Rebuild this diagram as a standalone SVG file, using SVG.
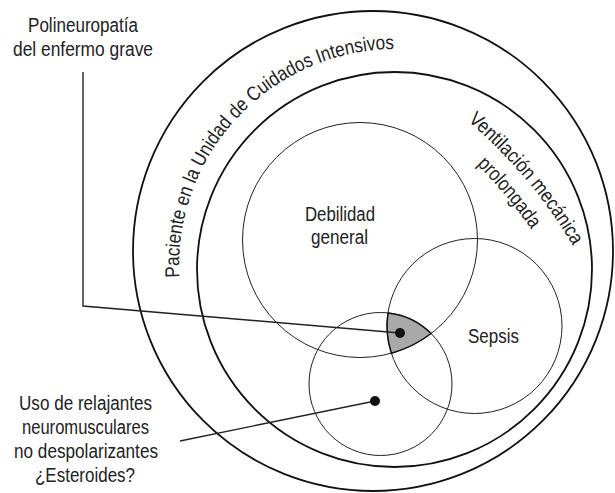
<svg xmlns="http://www.w3.org/2000/svg" xmlns:xlink="http://www.w3.org/1999/xlink" width="615" height="493" viewBox="0 0 615 493">
<style>
.bg{fill:#ffffff}
.ring{fill:none;stroke:#111;stroke-width:1.8}
.set{fill:none;stroke:#222;stroke-width:1}
.shade{fill:#a9a9a9;stroke:#111;stroke-width:1.5;stroke-linejoin:round}
.con{fill:none;stroke:#222;stroke-width:1.4}
.dot{fill:#111}
.t{font-family:"Liberation Sans",Arial,sans-serif;font-size:20px;fill:#222}
.c{text-anchor:middle}
</style>
<defs>
<path id="arcUCI" d="M179.8,284.9 A217,217 0 0 1 414.9,49.8"/>
<path id="arcV1" d="M393,68 A500,500 0 0 1 612.8,330"/>
<path id="arcV2" d="M380,90.5 A474,474 0 0 1 588.4,338.9"/>
</defs>
<rect class="bg" x="0" y="0" width="615" height="493"/>
<g id="node-uci">
<circle class="ring" cx="373" cy="251" r="240"/>
<text class="t"><textPath xlink:href="#arcUCI" href="#arcUCI" startOffset="7.6" textLength="350" lengthAdjust="spacingAndGlyphs">Paciente en la Unidad de Cuidados Intensivos</textPath></text>
</g>
<g id="node-ventilacion">
<circle class="ring" cx="394.5" cy="269.5" r="197.5"/>
<text class="t"><textPath xlink:href="#arcV1" href="#arcV1" startOffset="91.7" textLength="164" lengthAdjust="spacingAndGlyphs">Ventilación mecánica</textPath></text>
<text class="t"><textPath xlink:href="#arcV2" href="#arcV2" startOffset="122.1" textLength="85" lengthAdjust="spacingAndGlyphs">prolongada</textPath></text>
</g>
<g id="node-debilidad">
<circle class="set" cx="360" cy="240" r="117.5"/>
<text class="t c" x="340" y="221" textLength="70" lengthAdjust="spacingAndGlyphs">Debilidad</text>
<text class="t c" x="339.5" y="244" textLength="57" lengthAdjust="spacingAndGlyphs">general</text>
</g>
<g id="node-sepsis">
<circle class="set" cx="474.5" cy="326" r="87.5"/>
<text class="t c" x="493.5" y="343" textLength="51" lengthAdjust="spacingAndGlyphs">Sepsis</text>
</g>
<g id="node-relajantes">
<circle class="set" cx="380.5" cy="384" r="71.5"/>
</g>
<g id="node-interseccion">
<path class="shade" d="M388,312.9 A71.5,71.5 0 0 1 431.1,333.5 A117.5,117.5 0 0 1 391.4,353.2 A87.5,87.5 0 0 1 388,312.9 Z"/>
</g>
<g id="connectors">
<path class="con" d="M83,72 V306 L400,333"/>
<path class="con" d="M180,441 L375,401"/>
<circle class="dot" cx="400" cy="333" r="5"/>
<circle class="dot" cx="375" cy="401" r="5"/>
</g>
<g id="label-polineuropatia">
<text class="t c" x="83" y="32" textLength="110" lengthAdjust="spacingAndGlyphs">Polineuropatía</text>
<text class="t c" x="83" y="56" textLength="140" lengthAdjust="spacingAndGlyphs">del enfermo grave</text>
</g>
<g id="label-relajantes">
<text class="t c" x="85.5" y="410" textLength="133" lengthAdjust="spacingAndGlyphs">Uso de relajantes</text>
<text class="t c" x="85.5" y="434" textLength="127" lengthAdjust="spacingAndGlyphs">neuromusculares</text>
<text class="t c" x="86" y="458" textLength="144" lengthAdjust="spacingAndGlyphs">no despolarizantes</text>
<text class="t c" x="85" y="482" textLength="100" lengthAdjust="spacingAndGlyphs">¿Esteroides?</text>
</g>
</svg>
